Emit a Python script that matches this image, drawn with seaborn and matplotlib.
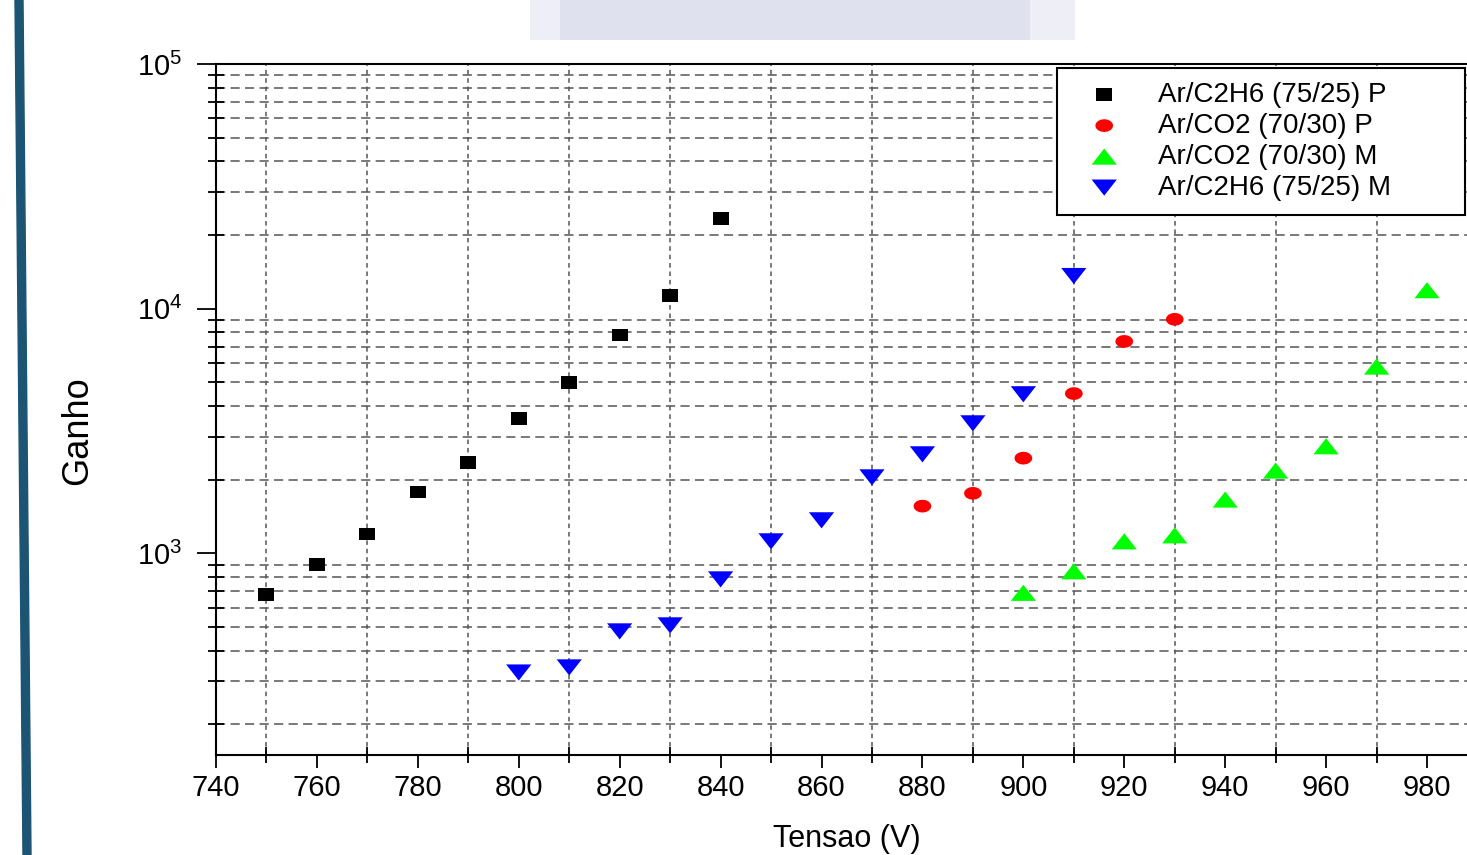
import matplotlib
matplotlib.use("Agg")
import matplotlib.pyplot as plt
import seaborn as sns
import numpy as np
import pandas as pd
from matplotlib import font_manager
from matplotlib.font_manager import FontProperties
from matplotlib.ticker import FixedLocator, LogLocator, NullFormatter, FuncFormatter
from matplotlib.patches import Polygon, Rectangle

# Ganho em funcao da tensao, quatro medidas
tensao_c2h6_p = [750, 760, 770, 780, 790, 800, 810, 820, 830, 840]
ganho_c2h6_p = [680, 900, 1200, 1780, 2360, 3560, 5000, 7800, 11300, 23400]

tensao_co2_p = [880, 890, 900, 910, 920, 930]
ganho_co2_p = [1560, 1760, 2450, 4500, 7350, 9050]

tensao_co2_m = [900, 910, 920, 930, 940, 950, 960, 970, 980]
ganho_co2_m = [690, 845, 1120, 1185, 1660, 2180, 2740, 5800, 11900]

tensao_c2h6_m = [800, 810, 820, 830, 840, 850, 860, 870, 880, 890, 900, 910]
ganho_c2h6_m = [326, 342, 480, 508, 783, 1120, 1365, 2045, 2540, 3400, 4470, 13600]

rotulos = ["Ar/C2H6 (75/25) P", "Ar/CO2 (70/30) P", "Ar/CO2 (70/30) M", "Ar/C2H6 (75/25) M"]
cores = ["black", "#ff0000", "#00ff00", "#0000ff"]

x_ticks = list(range(740, 1000, 20))
x_minor = list(range(750, 1000, 20))


def tem_fonte(nome):
    try:
        font_manager.findfont(FontProperties(family=nome), fallback_to_default=False)
        return True
    except ValueError:
        return False


sns.set_style("ticks")
plt.rcParams['font.family'] = ['Liberation Sans', 'DejaVu Sans']
plt.rcParams['mathtext.fontset'] = 'custom'
plt.rcParams['mathtext.rm'] = 'Liberation Sans'
plt.rcParams['text.color'] = 'black'
plt.rcParams['axes.labelcolor'] = 'black'
plt.rcParams['xtick.color'] = 'black'
plt.rcParams['ytick.color'] = 'black'

# marcadores um pouco achatados, como no original
quadrado = [(-1, -0.8), (1, -0.8), (1, 0.8), (-1, 0.8), (-1, -0.8)]
ang = np.linspace(0, 2 * np.pi, 17)
elipse = list(zip(np.cos(ang), 0.72 * np.sin(ang)))
tri_cima = [(0, 0.64), (-1, -0.64), (1, -0.64), (0, 0.64)]
tri_baixo = [(0, -0.64), (-1, 0.64), (1, 0.64), (0, -0.64)]

series = [
    (tensao_c2h6_p, ganho_c2h6_p, quadrado, 132),
    (tensao_co2_p, ganho_co2_p, elipse, 165),
    (tensao_co2_m, ganho_co2_m, tri_cima, 330),
    (tensao_c2h6_m, ganho_c2h6_m, tri_baixo, 330),
]

fig = plt.figure(figsize=(14.67, 8.55), dpi=100)
ax = fig.add_axes([216 / 1467, 1 - 755 / 855, 1261.5 / 1467, 691 / 855])

for (tx, gy, mk, tam), rot, cor in zip(series, rotulos, cores):
    df = pd.DataFrame({"tensao": tx, "ganho": gy})
    sns.scatterplot(data=df, x="tensao", y="ganho", marker=mk, s=tam,
                    color=cor, edgecolor="none", linewidth=0, label=rot,
                    ax=ax, zorder=3)

ax.set_yscale('log')
ax.set_xlim(740, 990)
ax.set_ylim(150, 1e5)

ax.xaxis.set_major_locator(FixedLocator(x_ticks))
ax.xaxis.set_minor_locator(FixedLocator(x_minor))
ax.yaxis.set_major_locator(LogLocator(base=10, numticks=10))
ax.yaxis.set_minor_locator(LogLocator(base=10, subs=np.arange(2, 10), numticks=30))
ax.yaxis.set_minor_formatter(NullFormatter())
ax.yaxis.set_major_formatter(FuncFormatter(
    lambda v, p: r"$\mathregular{10^{%d}}$" % int(round(np.log10(v)))))

ax.tick_params(axis='x', which='major', direction='out', length=9, width=1.3,
               labelsize=21, pad=5, colors='black')
ax.tick_params(axis='x', which='minor', direction='inout', length=12, width=1.3)
ax.tick_params(axis='y', which='major', direction='out', length=14, width=1.3,
               labelsize=21, pad=10, colors='black')
ax.tick_params(axis='y', which='minor', direction='inout', length=12, width=1.3)

# grade so nas marcas menores
ax.grid(False)
ax.yaxis.grid(True, which='minor', linestyle=(0, (6, 3.5)), color='#555555', linewidth=1.1)
ax.xaxis.grid(True, which='minor', linestyle=(0, (3, 2.5)), color='#555555', linewidth=1.1)
ax.set_axisbelow(True)

for lado in ['left', 'bottom', 'top']:
    ax.spines[lado].set_linewidth(1.5)
    ax.spines[lado].set_color('black')
ax.spines['right'].set_visible(False)

ax.set_xlabel("Tensao (V)", fontsize=22, color='black')
ax.xaxis.set_label_coords(0.5, -0.1)
if tem_fonte('Liberation Sans Narrow'):
    ax.set_ylabel("Ganho", fontsize=30, color='black',
                  family=['Liberation Sans Narrow', 'DejaVu Sans'])
else:
    ax.set_ylabel("Ganho", fontsize=26, color='black')
ax.yaxis.set_label_coords(-0.096, 0.469)

handles, labels = ax.get_legend_handles_labels()
leg = ax.legend(handles, labels, loc='upper left', mode='expand',
                bbox_to_anchor=(1057 / 1467, 1 - 211 / 855, 408 / 1467, 143 / 855),
                bbox_transform=fig.transFigure, borderaxespad=0,
                fontsize=20, handlelength=2.4, handletextpad=0.75,
                borderpad=0.5, labelspacing=0.18, fancybox=False,
                framealpha=1, edgecolor='black')
leg.get_frame().set_linewidth(1.5)
for t in leg.get_texts():
    t.set_color('black')

# barra azul a esquerda e faixa clara no topo
fig.add_artist(Polygon([(15 / 1467, 1), (23 / 1467, 1), (31 / 1467, 0), (23 / 1467, 0)],
                       closed=True, transform=fig.transFigure, color='#1c5474', zorder=0))
fig.add_artist(Rectangle((560 / 1467, 1 - 40 / 855), 470 / 1467, 40 / 855,
                         transform=fig.transFigure, color='#dfe1ee', zorder=0, lw=0))
fig.add_artist(Rectangle((530 / 1467, 1 - 40 / 855), 545 / 1467, 40 / 855,
                         transform=fig.transFigure, color='#dfe1ee', alpha=0.5, zorder=0, lw=0))

fig.savefig("out.png", dpi=100)
